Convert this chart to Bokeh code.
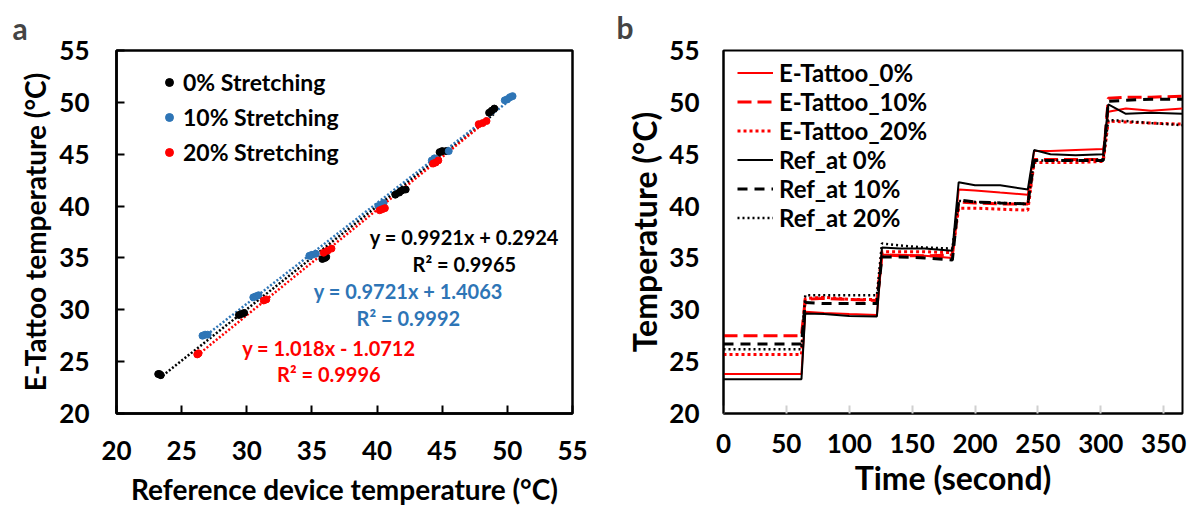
from bokeh.plotting import figure
from bokeh.layouts import row
from bokeh.models import Legend, LegendItem, FixedTicker, Range1d
from bokeh.core.properties import value
from bokeh.embed import file_html
from bokeh.resources import INLINE

FONT = "Lato"
RED = "#FF0000"
BLUE = "#2E75B6"
BLACK = "#000000"

# ---------------- Panel a data ----------------
black_x = [23.2, 23.3, 23.4, 29.4, 29.6, 29.8, 35.8, 36.0, 36.1, 41.4, 41.7, 41.9, 42.2, 44.8, 45.0, 45.3, 48.6, 48.8, 49.0]
black_y = [23.8, 23.8, 23.7, 29.5, 29.6, 29.7, 34.9, 35.0, 35.1, 41.1, 41.3, 41.5, 41.6, 45.2, 45.3, 45.3, 49.0, 49.2, 49.4]
blue_x = [26.6, 26.8, 27.0, 30.5, 30.7, 30.9, 34.8, 35.0, 35.3, 40.1, 40.3, 40.5, 44.2, 44.4, 45.5, 49.8, 50.0, 50.2, 50.4]
blue_y = [27.5, 27.6, 27.6, 31.2, 31.3, 31.4, 35.2, 35.3, 35.4, 40.0, 40.1, 40.3, 44.4, 44.6, 45.3, 50.2, 50.3, 50.5, 50.6]
red_x = [26.2, 26.3, 31.3, 31.5, 35.9, 36.2, 36.5, 40.2, 40.4, 40.6, 44.3, 44.5, 44.7, 47.8, 48.1, 48.4]
red_y = [25.7, 25.8, 30.9, 31.0, 35.5, 35.7, 35.9, 39.6, 39.7, 39.8, 44.1, 44.2, 44.4, 47.9, 48.0, 48.2]

series_labels = ["0% Stretching", "10% Stretching", "20% Stretching"]
fit_slopes = [0.9921, 0.9721, 1.018]
fit_intercepts = [0.2924, 1.4063, -1.0712]
fit_x_ranges = [[23.3, 49.0], [26.7, 50.4], [26.2, 48.4]]
eq_texts = [["y = 0.9921x + 0.2924", "R² = 0.9965"],
            ["y = 0.9721x + 1.4063", "R² = 0.9992"],
            ["y = 1.018x - 1.0712", "R² = 0.9996"]]
eq_x = [46.7, 42.4, 36.3]
eq_y = [[37.0, 34.45], [31.77, 29.2], [26.35, 23.8]]

axis_ticks = [20, 25, 30, 35, 40, 45, 50, 55]

# ---------------- Panel b data ----------------
time_s = [0, 62, 65, 80, 100, 122, 126, 140, 160, 182, 187, 200, 220, 242, 247, 260, 280, 302, 306, 320, 340, 365]
etattoo_0 = [23.8, 23.8, 29.8, 29.7, 29.6, 29.5, 35.3, 35.3, 35.2, 35.0, 41.6, 41.5, 41.3, 41.1, 45.3, 45.3, 45.4, 45.5, 49.1, 49.4, 49.2, 49.4]
etattoo_10 = [27.5, 27.5, 31.0, 31.1, 31.0, 30.9, 35.3, 35.2, 35.2, 35.3, 40.4, 40.3, 40.2, 40.2, 44.5, 44.5, 44.5, 44.5, 50.4, 50.5, 50.5, 50.6]
etattoo_20 = [25.7, 25.7, 31.1, 31.2, 31.0, 31.0, 35.6, 35.6, 35.6, 35.5, 39.8, 39.8, 39.7, 39.6, 44.2, 44.2, 44.2, 44.3, 48.2, 48.1, 48.0, 47.9]
ref_0 = [23.3, 23.3, 29.65, 29.6, 29.4, 29.35, 36.0, 35.9, 35.9, 35.7, 42.3, 42.0, 42.0, 41.6, 45.4, 45.0, 44.9, 45.0, 49.8, 48.9, 49.0, 48.9]
ref_10 = [26.7, 26.7, 30.7, 30.6, 30.6, 30.6, 35.1, 35.1, 35.0, 34.8, 40.6, 40.4, 40.3, 40.2, 44.4, 44.4, 44.4, 44.4, 50.1, 50.2, 50.3, 50.3]
ref_20 = [26.2, 26.2, 31.4, 31.4, 31.4, 31.4, 36.4, 36.2, 36.0, 35.9, 40.5, 40.4, 40.3, 40.2, 44.4, 44.4, 44.4, 44.5, 48.3, 48.2, 48.0, 47.8]
b_labels = ["E-Tattoo_0%", "E-Tattoo_10%", "E-Tattoo_20%", "Ref_at 0%", "Ref_at 10%", "Ref_at 20%"]
time_ticks = [0, 50, 100, 150, 200, 250, 300, 350]


def style_axes(p, tick_px, label_px, line_w):
    for ax in (p.xaxis[0], p.yaxis[0]):
        ax.axis_line_width = line_w
        ax.axis_line_color = "black"
        ax.major_tick_in = 8
        ax.major_tick_out = 0
        ax.major_tick_line_width = 2
        ax.minor_tick_line_color = None
        ax.major_label_text_font = FONT
        ax.major_label_text_font_style = "bold"
        ax.major_label_text_font_size = tick_px
        ax.major_label_text_color = "black"
        ax.axis_label_text_font = FONT
        ax.axis_label_text_font_style = "bold"
        ax.axis_label_text_font_size = label_px
        ax.axis_label_text_color = "black"
    p.xgrid.visible = False
    p.ygrid.visible = False
    p.outline_line_color = "black"
    p.outline_line_width = line_w
    p.outline_line_alpha = 1.0


H = 511

# ================= Panel a =================
pa = figure(width=600, height=H, output_backend="svg", toolbar_location=None,
            x_range=Range1d(20, 55), y_range=Range1d(20, 55),
            min_border_left=116, min_border_right=28, min_border_top=47, min_border_bottom=98,
            x_axis_label="Reference device temperature (°C)", y_axis_label="E-Tattoo temperature (°C)")
pa.title.text = "a"
pa.title.text_font = FONT
pa.title.text_font_size = "30px"
pa.title.text_font_style = "bold"
pa.title.align = "left"
pa.title.offset = -104
pa.title.standoff = 10
style_axes(pa, "26px", "28px", 2.5)
pa.xaxis[0].ticker = FixedTicker(ticks=axis_ticks)
pa.yaxis[0].ticker = FixedTicker(ticks=axis_ticks)
pa.xaxis[0].major_label_standoff = 27
pa.yaxis[0].major_label_standoff = 27
pa.xaxis[0].axis_label_standoff = 9
pa.yaxis[0].axis_label_standoff = 4

colors_a = [BLACK, BLUE, RED]
xs_a = [black_x, blue_x, red_x]
ys_a = [black_y, blue_y, red_y]

for i in range(3):
    fx = fit_x_ranges[i]
    fy = [fit_slopes[i] * v + fit_intercepts[i] for v in fx]
    pa.line(fx, fy, line_color=colors_a[i], line_width=2.5, line_dash="2 2")

items_a = []
for i in range(3):
    r = pa.scatter(xs_a[i], ys_a[i], size=7, fill_color=colors_a[i], line_color=colors_a[i])
    items_a.append(LegendItem(label=series_labels[i], renderers=[r]))

for i in range(3):
    pa.text(x=[eq_x[i], eq_x[i]], y=eq_y[i], text=eq_texts[i], text_color=colors_a[i],
            text_font=value(FONT), text_font_style="bold", text_font_size="20px",
            text_align="center", text_baseline="middle")

leg_a = Legend(items=items_a, location=(43, 247), orientation="vertical",
               background_fill_alpha=0, border_line_color=None,
               label_text_font=FONT, label_text_font_style="bold", label_text_font_size="23px",
               label_text_color="black", glyph_width=20, glyph_height=28, label_height=28,
               label_standoff=4, spacing=7, padding=0, margin=0)
pa.add_layout(leg_a)

# ================= Panel b =================
pb = figure(width=592, height=H, output_backend="svg", toolbar_location=None,
            x_range=Range1d(0, 365), y_range=Range1d(20, 55),
            min_border_left=123, min_border_right=10, min_border_top=48, min_border_bottom=96,
            x_axis_label="Time (second)", y_axis_label="Temperature (°C)")
pb.title.text = "b"
pb.title.text_font = FONT
pb.title.text_font_size = "30px"
pb.title.text_font_style = "bold"
pb.title.align = "left"
pb.title.offset = -107
pb.title.standoff = 12
style_axes(pb, "26px", "32px", 2)
pb.xaxis[0].ticker = FixedTicker(ticks=time_ticks)
pb.yaxis[0].ticker = FixedTicker(ticks=axis_ticks)
pb.xaxis[0].major_tick_line_color = "#d0d0d0"
pb.yaxis[0].major_tick_line_color = None
pb.xaxis[0].major_label_standoff = 20
pb.yaxis[0].major_label_standoff = 24
pb.xaxis[0].axis_label_standoff = 2
pb.yaxis[0].axis_label_standoff = 2

b_series = [etattoo_0, etattoo_10, etattoo_20, ref_0, ref_10, ref_20]
b_colors = [RED, RED, RED, BLACK, BLACK, BLACK]
b_dash = ["solid", "14 6", "3 3", "solid", "10 7", "2 3"]
b_width = [2, 3, 3, 2, 3, 2.5]
items_b = []
for i in range(6):
    r = pb.line(time_s, b_series[i], line_color=b_colors[i], line_width=b_width[i],
                line_dash=b_dash[i])
    items_b.append(LegendItem(label=b_labels[i], renderers=[r]))

leg_b = Legend(items=items_b, location=(14, 181), orientation="vertical",
               background_fill_alpha=0, border_line_color=None,
               label_text_font=FONT, label_text_font_style="bold", label_text_font_size="24px",
               label_text_color="black", glyph_width=36, glyph_height=29, label_height=29,
               label_standoff=6, spacing=0, padding=0, margin=0)
pb.add_layout(leg_b)

layout = row(pa, pb)
open("out.html", "w").write(file_html(layout, INLINE))
